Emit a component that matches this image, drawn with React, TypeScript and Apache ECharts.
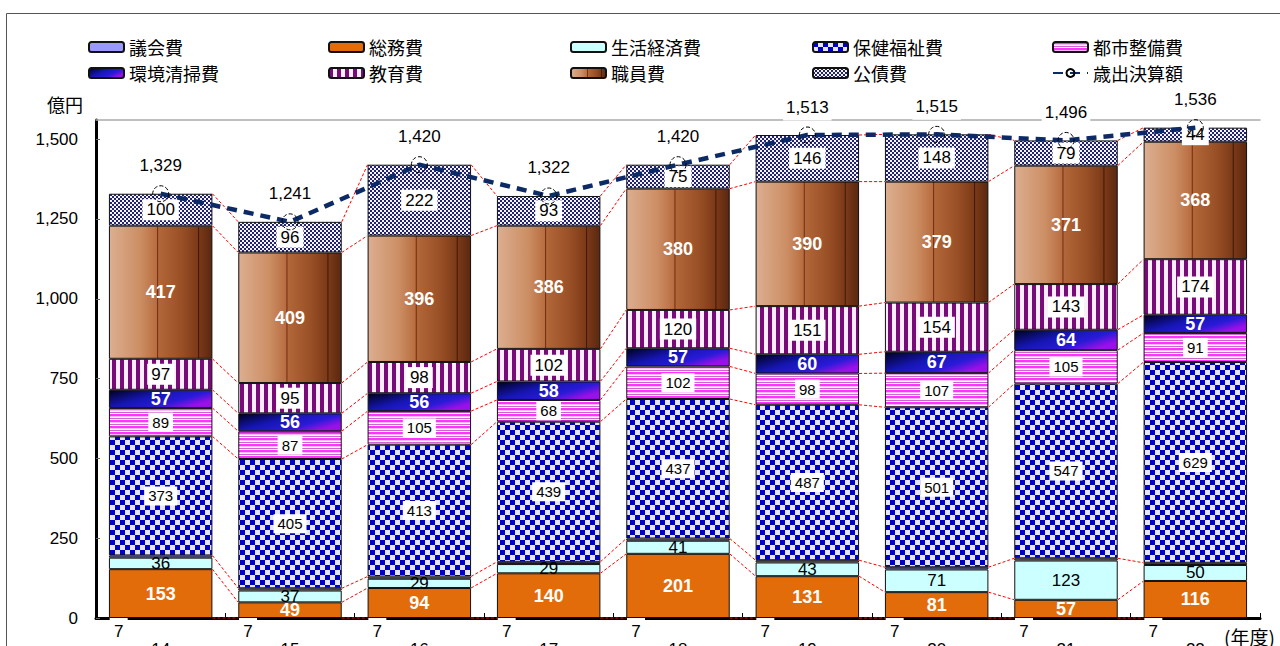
import React, { useEffect, useRef } from 'react';
import * as echarts from 'echarts';

const years = ['14', '15', '16', '17', '18', '19', '20', '21', '22'];
const eraMark = '7';
const soumu = [153, 49, 94, 140, 201, 131, 81, 57, 116];
const seikatsu = [36, 37, 29, 29, 41, 43, 71, 123, 50];
const gikai = [7, 7, 7, 7, 7, 7, 7, 7, 7];
const hoken = [373, 405, 413, 439, 437, 487, 501, 547, 629];
const toshi = [89, 87, 105, 68, 102, 98, 107, 105, 91];
const kankyo = [57, 56, 56, 58, 57, 60, 67, 64, 57];
const kyouiku = [97, 95, 98, 102, 120, 151, 154, 143, 174];
const shokuin = [417, 409, 396, 386, 380, 390, 379, 371, 368];
const kousai = [100, 96, 222, 93, 75, 146, 148, 79, 44];
const total = [1329, 1241, 1420, 1322, 1420, 1513, 1515, 1496, 1536];

const NUM = '"Liberation Sans", Arial, sans-serif';
const JP = '"Noto Sans CJK JP", "Noto Sans", sans-serif';

function pattern(w: number, h: number, draw: (c: CanvasRenderingContext2D) => void) {
  const c = document.createElement('canvas');
  c.width = w;
  c.height = h;
  const ctx = c.getContext('2d') as CanvasRenderingContext2D;
  draw(ctx);
  return { image: c, repeat: 'repeat' } as any;
}

export default function App() {
  const ref = useRef<HTMLDivElement>(null);
  useEffect(() => {
    document.body.style.margin = '0';
    const chart = echarts.init(ref.current as HTMLDivElement, undefined, { renderer: 'svg' });

    const hokenPat = pattern(10, 10, (c) => {
      c.fillStyle = '#e6e6ff'; c.fillRect(0, 0, 10, 10);
      c.fillStyle = '#0000c8'; c.fillRect(0, 0, 5, 5); c.fillRect(5, 5, 5, 5);
    });
    const kousaiPat = pattern(4, 4, (c) => {
      c.fillStyle = '#f4f4ff'; c.fillRect(0, 0, 4, 4);
      c.fillStyle = '#22226e'; c.fillRect(0, 0, 2, 2); c.fillRect(2, 2, 2, 2);
    });
    const toshiPat = pattern(6, 6, (c) => {
      c.fillStyle = '#ffffff'; c.fillRect(0, 0, 6, 6);
      c.fillStyle = '#ff33ff'; c.fillRect(0, 0, 6, 2);
      c.fillStyle = '#ffb8ff'; c.fillRect(0, 2, 6, 1);
      c.fillStyle = '#cc66cc'; c.fillRect(0, 4, 6, 1);
    });
    const kyouikuPat = pattern(8, 8, (c) => {
      c.fillStyle = '#fbeefb'; c.fillRect(0, 0, 8, 8);
      c.fillStyle = '#7a0a7a'; c.fillRect(0, 0, 4, 8);
    });
    const kankyoGrad = new echarts.graphic.LinearGradient(0, 0, 1, 0.6, [
      { offset: 0, color: '#00001e' },
      { offset: 0.45, color: '#1616b4' },
      { offset: 0.75, color: '#2a1ad8' },
      { offset: 1, color: '#9a10e8' },
    ]);
    const shokuinGrad = new echarts.graphic.LinearGradient(0, 0, 1, 0, [
      { offset: 0, color: '#dcae90' },
      { offset: 0.3, color: '#cc8e64' },
      { offset: 0.46, color: '#b86d40' },
      { offset: 0.47, color: '#6e2e10' },
      { offset: 0.48, color: '#b26739' },
      { offset: 0.7, color: '#9a5026' },
      { offset: 0.86, color: '#7c3a18' },
      { offset: 0.87, color: '#3e1806' },
      { offset: 0.88, color: '#7a3818' },
      { offset: 1, color: '#5a2810' },
    ]);

    const whiteBox = (size: number) => ({
      show: true, position: 'inside', color: '#000', fontSize: size, fontFamily: NUM,
      backgroundColor: '#fff', padding: [3, 4, 1, 4],
    });
    const whiteBold = { show: true, position: 'inside', color: '#fff', fontSize: 18, fontWeight: 'bold', fontFamily: NUM };
    const plainBlack = { show: true, position: 'inside', color: '#000', fontSize: 17, fontFamily: NUM };

    const stackDefs = [
      { name: '総務費', data: soumu, color: '#e36c0a', label: whiteBold },
      { name: '生活経済費', data: seikatsu, color: '#ccffff', label: plainBlack },
      { name: '議会費', data: gikai, color: '#9999ff', label: { show: false } },
      { name: '保健福祉費', data: hoken, color: hokenPat, label: whiteBox(15) },
      { name: '都市整備費', data: toshi, color: toshiPat, label: whiteBox(15) },
      { name: '環境清掃費', data: kankyo, color: kankyoGrad, label: whiteBold },
      { name: '教育費', data: kyouiku, color: kyouikuPat, label: whiteBox(17) },
      { name: '職員費', data: shokuin, color: shokuinGrad, label: whiteBold },
      { name: '公債費', data: kousai, color: kousaiPat, label: whiteBox(17) },
    ];

    // cumulative levels for connector lines
    const cumAfter: number[][] = [];
    let run = years.map(() => 0);
    cumAfter.push(run.slice());
    stackDefs.forEach((d) => {
      run = run.map((v, i) => v + d.data[i]);
      if (d.name !== '生活経済費') cumAfter.push(run.slice());
    });

    const barSeries = stackDefs.map((d) => ({
      type: 'bar', name: d.name, stack: 'total', data: d.data, barWidth: '80%',
      itemStyle: { color: d.color, borderColor: '#111', borderWidth: 1 },
      label: d.label, z: 3,
    }));

    const legendCols = [
      ['議会費', '環境清掃費'],
      ['総務費', '教育費'],
      ['生活経済費', '職員費'],
      ['保健福祉費', '公債費'],
      ['都市整備費', '歳出決算額'],
    ];
    const legendX = [88, 328, 570, 812, 1052];

    chart.setOption({
      animation: false,
      textStyle: { fontFamily: JP },
      grid: { left: 96, right: 20, top: 120, bottom: 28, containLabel: false, outerBoundsMode: 'none' },
      legend: legendCols.map((col, k) => ({
        data: col, orient: 'vertical', left: legendX[k], top: 37, itemWidth: 35, itemHeight: 10,
        itemGap: 6, itemTextGap: 5, selectedMode: false, padding: 0,
        textStyle: { fontSize: 18, fontFamily: JP, color: '#000', lineHeight: 20 },
      })),
      xAxis: [
        {
          type: 'category', data: years, position: 'bottom',
          axisLine: { lineStyle: { color: '#000', width: 3 } },
          axisTick: { show: true, inside: true, length: 5, lineStyle: { color: '#000', width: 1 } },
          axisLabel: {
            margin: -2,
            formatter: (v: string) => `{w|${eraMark}}{s|}\n{b|${v}}`,
            rich: {
              w: { width: 18, height: 30, align: 'center', verticalAlign: 'bottom', fontSize: 17, color: '#000', fontFamily: NUM, backgroundColor: '#fff', lineHeight: 30 },
              s: { width: 84, height: 30 },
              b: { fontSize: 17, color: '#000', fontFamily: NUM, lineHeight: 6, height: 6, align: 'center' },
            },
          },
        },
        {
          type: 'category', data: years, position: 'top',
          axisLine: { lineStyle: { color: '#aaaaaa', width: 1.5 } },
          axisTick: { show: false }, axisLabel: { show: false },
        },
      ],
      yAxis: {
        type: 'value', min: 0, max: 1560, interval: 250,
        axisLine: { show: true, lineStyle: { color: '#000', width: 3 } },
        axisTick: { show: true, inside: true, length: 4, lineStyle: { color: '#666' } },
        splitLine: { show: false },
        axisLabel: {
          fontSize: 17, color: '#000', fontFamily: NUM, margin: 18, showMaxLabel: false,
          formatter: (v: number) => v.toLocaleString('en-US'),
        },
      },
      series: [
        ...barSeries,
        {
          type: 'custom', name: 'connectors', silent: true, clip: false, z: 1,
          data: years.slice(0, -1).map((_, i) => [i, 0]),
          encode: { x: 0, y: 1 },
          renderItem: (params: any, api: any) => {
            const i = api.value(0);
            const hw = (api.size([1, 0])[0] * 0.8) / 2;
            return {
              type: 'group',
              children: cumAfter.map((lv) => {
                const a = api.coord([i, lv[i]]);
                const b = api.coord([i + 1, lv[i + 1]]);
                return {
                  type: 'line',
                  shape: { x1: a[0] + hw, y1: a[1], x2: b[0] - hw, y2: b[1] },
                  style: { stroke: '#ff0000', lineWidth: 1, lineDash: [3, 2] },
                };
              }),
            };
          },
        },
        {
          type: 'line', name: '歳出決算額', data: total, z: 5,
          symbol: 'circle', symbolSize: 16,
          lineStyle: { color: '#0b2a66', width: 4.5, type: [10, 7] },
          itemStyle: { color: 'rgba(255,255,255,0)', borderColor: '#000', borderWidth: 1, borderType: 'dashed' },
          label: {
            show: true, position: 'top', distance: 6, color: '#000', fontSize: 17, fontFamily: NUM,
            backgroundColor: '#fff', padding: [2, 3, 5, 3],
            formatter: (p: any) => Number(p.value).toLocaleString('en-US'),
          },
        },
      ],
      graphic: [
        { type: 'rect', silent: true, z: -10, shape: { x: 6.5, y: 13.5, width: 1400, height: 800 }, style: { fill: 'none', stroke: '#555', lineWidth: 1 } },
        { type: 'text', left: 47, top: 95, style: { text: '億円', fontSize: 18, fontFamily: JP, fill: '#000' } },
        { type: 'text', left: 1224, top: 627, style: { text: '(年度)', fontSize: 19, fontFamily: JP, fill: '#000' } },
      ],
    });
    return () => chart.dispose();
  }, []);
  return <div ref={ref} style={{ width: 1280, height: 646 }} />;
}
